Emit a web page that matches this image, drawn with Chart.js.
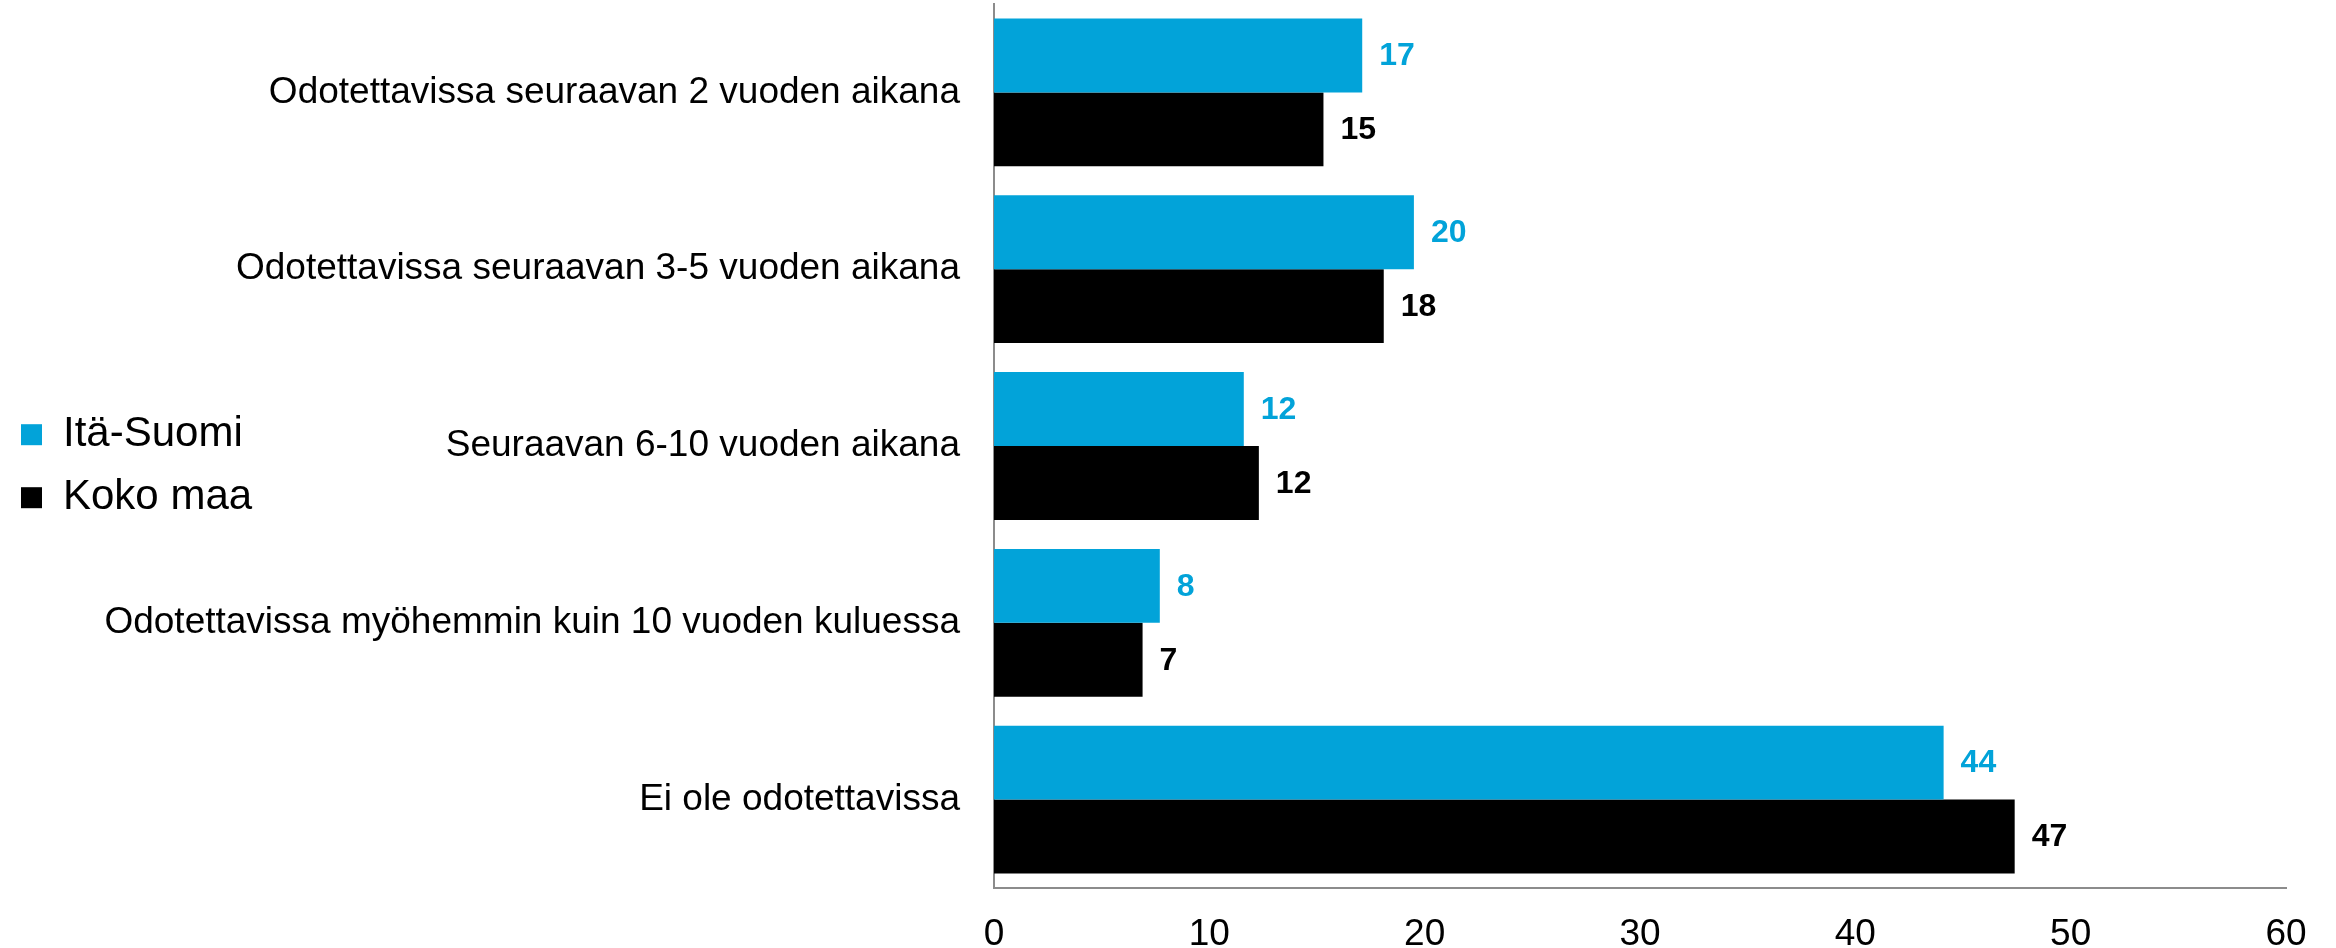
<!DOCTYPE html>
<html lang="fi">
<head>
<meta charset="UTF-8">
<title>Itä-Suomi vs Koko maa</title>
<script src="https://cdn.jsdelivr.net/npm/chart.js@4"></script>
<style>
  html, body { margin: 0; padding: 0; background: #fff; }
  #wrap { width: 2336px; height: 948px; position: relative; }
</style>
</head>
<body>
<div id="wrap"><canvas id="chart"></canvas></div>
<script>
const categories = [
  'Odotettavissa seuraavan 2 vuoden aikana',
  'Odotettavissa seuraavan 3-5 vuoden aikana',
  'Seuraavan 6-10 vuoden aikana',
  'Odotettavissa myöhemmin kuin 10 vuoden kuluessa',
  'Ei ole odotettavissa'
]
const itaSuomi = [17.1, 19.5, 11.6, 7.7, 44.1]
const kokoMaa = [15.3, 18.1, 12.3, 6.9, 47.4]
const xTicks = [0, 10, 20, 30, 40, 50, 60]

const FONT = "'Liberation Sans', Arial, sans-serif"
const BLUE = '#02a3d9'

// values at the end of each bar, rounded like in the original
const barValues = {
  id: 'barValues',
  afterDatasetsDraw(chart) {
    const ctx = chart.ctx
    ctx.save()
    ctx.font = `bold 32px ${FONT}`
    ctx.textAlign = 'left'
    ctx.textBaseline = 'middle'
    chart.data.datasets.forEach((ds, i) => {
      const meta = chart.getDatasetMeta(i)
      ctx.fillStyle = ds.labelColor
      meta.data.forEach((bar, j) => {
        ctx.fillText(Math.round(ds.data[j]), bar.x + 17, bar.y + 1)
      })
    })
    ctx.restore()
  }
}

new Chart(document.getElementById('chart'), {
  type: 'bar',
  data: {
    labels: categories,
    datasets: [
      { label: 'Itä-Suomi', data: itaSuomi, backgroundColor: BLUE, labelColor: BLUE },
      { label: 'Koko maa', data: kokoMaa, backgroundColor: '#000000', labelColor: '#000000' }
    ]
  },
  options: {
    indexAxis: 'y',
    responsive: true,
    maintainAspectRatio: false,
    animation: false,
    categoryPercentage: 0.836,
    barPercentage: 1,
    layout: { padding: { top: 4, right: 50, bottom: 0, left: 0 } },
    plugins: {
      tooltip: { enabled: false },
      legend: {
        position: 'left',
        fullSize: false,
        title: { display: true, text: ' ', font: { size: 2 }, padding: 19 },
        labels: {
          boxWidth: 21,
          boxHeight: 21,
          padding: 21,
          color: '#000',
          font: { family: FONT, size: 42 }
        }
      }
    },
    scales: {
      x: {
        min: 0,
        max: 60,
        afterBuildTicks(scale) { scale.ticks = xTicks.map(v => ({ value: v })) },
        afterFit(scale) {
          scale.height = 60
          scale.paddingLeft = 0
          scale.paddingRight = 0
        },
        grid: { display: false, drawTicks: false },
        border: { display: true, color: '#8c8c8c', width: 2 },
        ticks: { padding: 25, color: '#000', font: { family: FONT, size: 37 } }
      },
      y: {
        grid: { display: false, drawTicks: false },
        border: { display: true, color: '#8c8c8c', width: 2 },
        ticks: { padding: 34, color: '#000', font: { family: FONT, size: 37 } },
        afterFit(scale) {
          scale.width = 994 - scale.chart.legend.width
          scale.paddingTop = 0
          scale.paddingBottom = 0
          // long labels reach over the legend column, so do not clip them
          scale._computeLabelArea = () => undefined
        }
      }
    }
  },
  plugins: [barValues]
})
</script>
</body>
</html>
